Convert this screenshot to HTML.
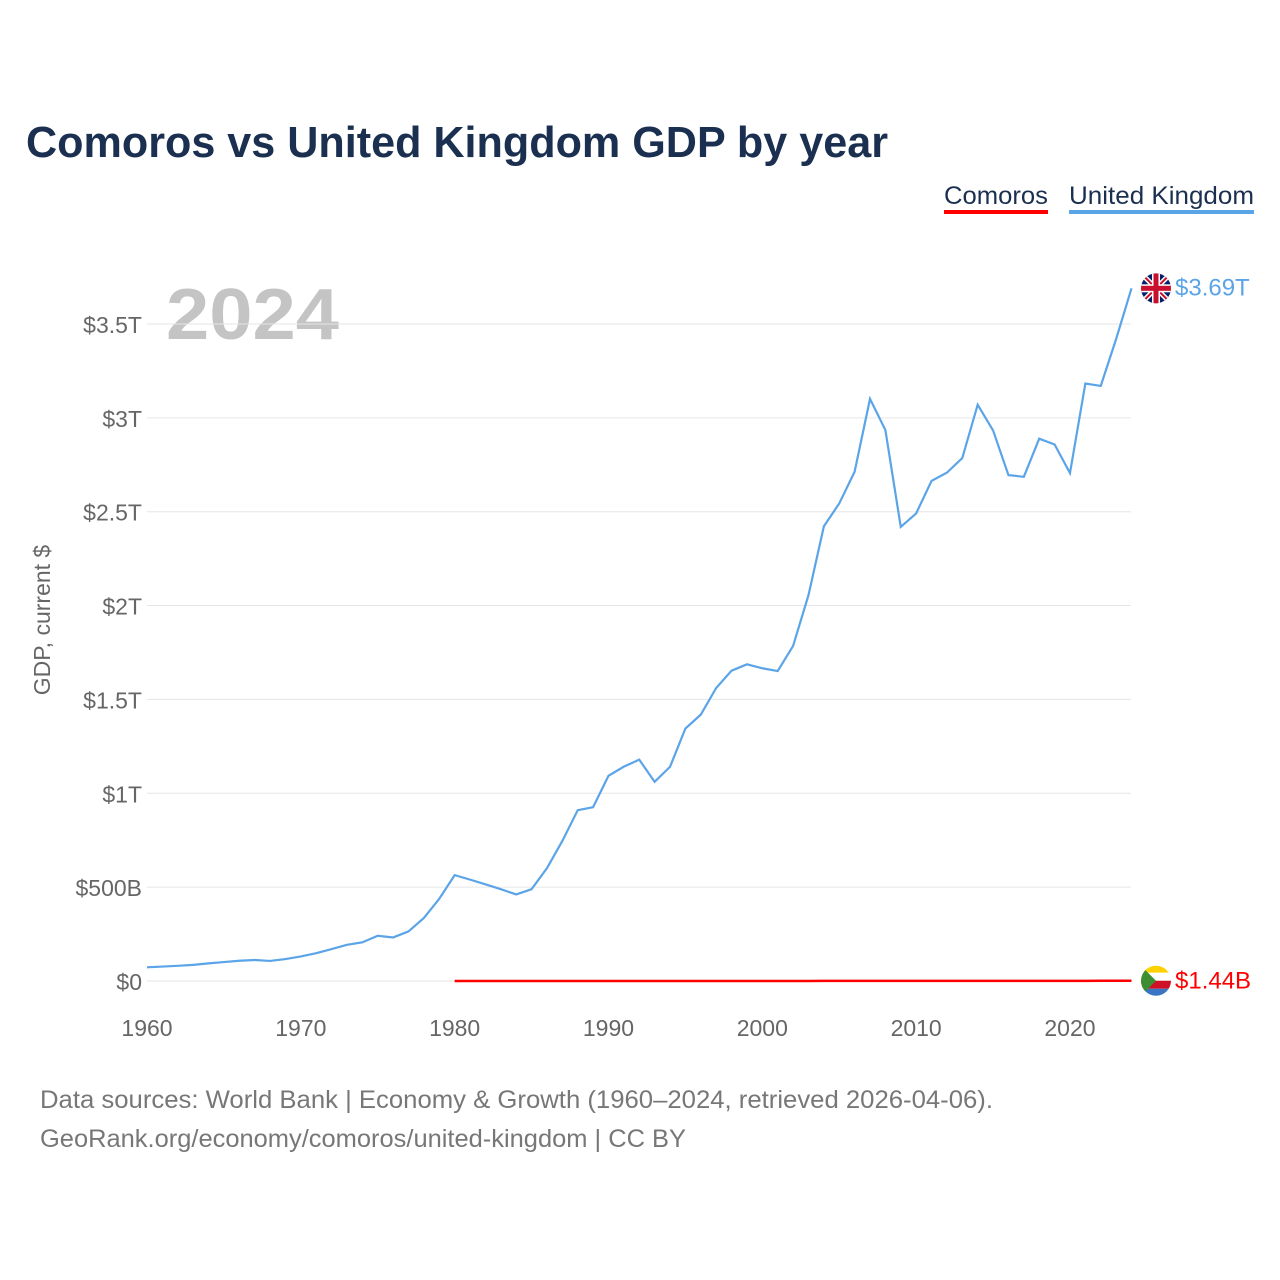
<!DOCTYPE html>
<html><head><meta charset="utf-8"><style>
body{margin:0;background:#fff;font-family:"Liberation Sans",sans-serif;}
#wrap{position:relative;width:1280px;height:1280px;overflow:hidden;}
</style></head><body>
<div id="wrap">
<svg id="chart" width="1280" height="1280">
<text x="26" y="157" font-size="44" font-weight="bold" fill="#1b3050" textLength="862" lengthAdjust="spacingAndGlyphs">Comoros vs United Kingdom GDP by year</text>
<g><text x="944" y="204" font-size="25" fill="#1b3050" textLength="104" lengthAdjust="spacingAndGlyphs">Comoros</text><rect x="944" y="210" width="104" height="4" fill="#ff0000"/></g>
<g><text x="1069" y="204" font-size="25" fill="#1b3050" textLength="185" lengthAdjust="spacingAndGlyphs">United Kingdom</text><rect x="1069" y="210" width="185" height="4" fill="#5ba4e8"/></g>
<text x="166" y="339" font-size="72" font-weight="bold" fill="#c4c4c4" textLength="173" lengthAdjust="spacingAndGlyphs">2024</text>
<text transform="translate(50,620) rotate(-90)" text-anchor="middle" font-size="23" fill="#666">GDP, current $</text>
<g id="grid"></g><g id="yt"></g><g id="xt"></g><g id="lines"></g>
<text x="40" y="1108" font-size="25" fill="#777" textLength="953" lengthAdjust="spacingAndGlyphs">Data sources: World Bank | Economy &amp; Growth (1960–2024, retrieved 2026-04-06).</text>
<text x="40" y="1147" font-size="25" fill="#777" textLength="646" lengthAdjust="spacingAndGlyphs">GeoRank.org/economy/comoros/united-kingdom | CC BY</text>
</svg></div>
<script>
const years=[];for(let y=1960;y<=2024;y++)years.push(y);
const ukValues=[0.073,0.077,0.081,0.086,0.094,0.101,0.108,0.112,0.107,0.117,0.131,0.148,0.170,0.193,0.206,0.241,0.232,0.264,0.336,0.438,0.564,0.540,0.515,0.489,0.461,0.489,0.601,0.746,0.910,0.926,1.093,1.142,1.179,1.061,1.141,1.345,1.419,1.561,1.653,1.687,1.666,1.651,1.785,2.055,2.422,2.544,2.713,3.101,2.935,2.419,2.491,2.664,2.708,2.786,3.070,2.933,2.695,2.686,2.889,2.858,2.706,3.183,3.170,3.420,3.690];
const comYears=[];for(let y=1980;y<=2024;y++)comYears.push(y);
const comValuesB=[0.12,0.12,0.12,0.11,0.11,0.11,0.16,0.2,0.22,0.21,0.25,0.25,0.27,0.26,0.19,0.23,0.22,0.2,0.2,0.2,0.2,0.22,0.25,0.32,0.37,0.39,0.41,0.46,0.52,0.52,0.53,0.58,0.57,0.62,0.64,0.54,0.56,0.59,0.64,0.62,0.64,0.67,1.24,1.31,1.44];
const yTicks=[0,0.5,1,1.5,2,2.5,3,3.5];
const yTickLabels=["$0","$500B","$1T","$1.5T","$2T","$2.5T","$3T","$3.5T"];
const xTicks=[1960,1970,1980,1990,2000,2010,2020];
const X=y=>147+(y-1960)*15.383, Y=v=>981-v*187.72;
const NS="http://www.w3.org/2000/svg";
function mk(p,t,a){const e=document.createElementNS(NS,t);for(const k in a)e.setAttribute(k,a[k]);document.getElementById(p).appendChild(e);return e;}
yTicks.forEach((v,i)=>{
 const g=mk("grid","line",{x1:147,x2:1131,y1:Y(v),y2:Y(v),stroke:"#e6e6e6","stroke-width":1});
 
 
 const t=mk("yt","text",{x:142,y:Y(v)+9,"text-anchor":"end","font-size":23,fill:"#666"});t.textContent=yTickLabels[i];
 
 
});
xTicks.forEach(v=>{
 const t=mk("xt","text",{x:X(v),y:1036,"text-anchor":"middle","font-size":23,fill:"#666"});t.textContent=v;
 
 
});
const uk=mk("lines","polyline",{points:years.map((y,i)=>X(y)+","+Y(ukValues[i])).join(" "),fill:"none",stroke:"#5ba4e8","stroke-width":2.2});


const cm=mk("lines","polyline",{points:comYears.map((y,i)=>X(y)+","+Y(comValuesB[i]/1000)).join(" "),fill:"none",stroke:"#ff0000","stroke-width":2.5});


const ukEnd=Y(ukValues[ukValues.length-1]);
const f1=mk("lines","g",{});


f1.innerHTML=`<clipPath id="c1"><circle cx="1156" cy="${ukEnd}" r="15"/></clipPath><g clip-path="url(#c1)"><rect x="1140" y="${ukEnd-16}" width="32" height="32" fill="#012169"/><path d="M1140 ${ukEnd-16}L1172 ${ukEnd+16}M1172 ${ukEnd-16}L1140 ${ukEnd+16}" stroke="#fff" stroke-width="5"/><path d="M1140 ${ukEnd-16}L1172 ${ukEnd+16}M1172 ${ukEnd-16}L1140 ${ukEnd+16}" stroke="#c8102e" stroke-width="2"/><rect x="1140" y="${ukEnd-4}" width="32" height="8" fill="#fff"/><rect x="1152" y="${ukEnd-16}" width="8" height="32" fill="#fff"/><rect x="1140" y="${ukEnd-2.5}" width="32" height="5" fill="#c8102e"/><rect x="1153.5" y="${ukEnd-16}" width="5" height="32" fill="#c8102e"/></g>`;
const t1=mk("lines","text",{x:1175,y:ukEnd+7,"font-size":24,fill:"#5ba4e8"});t1.textContent="$3.69T";


const cEnd=Y(comValuesB[comValuesB.length-1]/1000);
const f2=mk("lines","g",{});


f2.innerHTML=`<clipPath id="c2"><circle cx="1156" cy="${cEnd}" r="15"/></clipPath><g clip-path="url(#c2)"><rect x="1140" y="${cEnd-16}" width="32" height="8" fill="#ffd100"/><rect x="1140" y="${cEnd-8}" width="32" height="8" fill="#fff"/><rect x="1140" y="${cEnd}" width="32" height="8" fill="#ce1126"/><rect x="1140" y="${cEnd+8}" width="32" height="8" fill="#3a75c4"/><path d="M1140 ${cEnd-16}L1156 ${cEnd}L1140 ${cEnd+16}Z" fill="#3d8e33"/></g>`;
const t2=mk("lines","text",{x:1175,y:cEnd+8,"font-size":24,fill:"#ff0000"});t2.textContent="$1.44B";


</script>
</body></html>
